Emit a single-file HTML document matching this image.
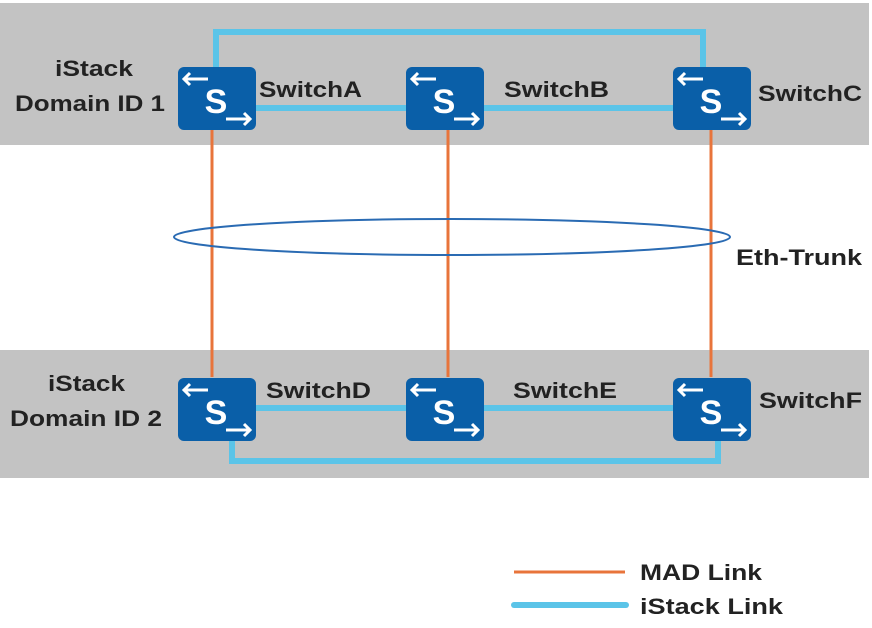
<!DOCTYPE html>
<html><head><style>
body{margin:0;width:872px;height:623px;background:#fff;overflow:hidden;font-family:"Liberation Sans",sans-serif;}
</style></head><body>
<svg width="872" height="623" xmlns="http://www.w3.org/2000/svg" font-family="Liberation Sans, sans-serif" font-weight="bold">
<rect x="0" y="3" width="869" height="142" fill="#c3c3c3"/>
<rect x="0" y="350" width="869" height="128" fill="#c3c3c3"/>
<g stroke="#5bc4e8" stroke-width="6" fill="none">
<polyline points="216,67 216,32 703,32 703,67"/>
<line x1="256" y1="108" x2="406" y2="108"/>
<line x1="484" y1="108" x2="673" y2="108"/>
<polyline points="232,441 232,461 718,461 718,441"/>
<line x1="256" y1="408" x2="406" y2="408"/>
<line x1="484" y1="408" x2="673" y2="408"/>
</g>
<g stroke="#e8743b" stroke-width="3">
<line x1="212" y1="130" x2="212" y2="377"/>
<line x1="448" y1="130" x2="448" y2="377"/>
<line x1="711" y1="130" x2="711" y2="377"/>
</g>
<ellipse cx="452" cy="237" rx="278" ry="18" fill="none" stroke="#2a6bb3" stroke-width="2"/>
<defs>
<g id="sw">
<rect x="0" y="0" width="78" height="63" rx="6" fill="#0a5fa8"/>
<text x="38" y="46" font-size="34" fill="#fff" text-anchor="middle" font-weight="bold">S</text>
<g stroke="#fff" stroke-width="3" fill="none">
<line x1="6" y1="12" x2="30" y2="12"/><polyline points="12,6 6,12 12,18"/>
<line x1="48" y1="52" x2="72" y2="52"/><polyline points="66,46 72,52 66,58"/>
</g>
</g>
</defs>
<use href="#sw" x="178" y="67"/><use href="#sw" x="406" y="67"/><use href="#sw" x="673" y="67"/>
<use href="#sw" x="178" y="378"/><use href="#sw" x="406" y="378"/><use href="#sw" x="673" y="378"/>
<g font-size="22" fill="#222">
<text x="55" y="76" textLength="78" lengthAdjust="spacingAndGlyphs">iStack</text>
<text x="15" y="111" textLength="150" lengthAdjust="spacingAndGlyphs">Domain ID 1</text>
<text x="48" y="391" textLength="77" lengthAdjust="spacingAndGlyphs">iStack</text>
<text x="10" y="426" textLength="152" lengthAdjust="spacingAndGlyphs">Domain ID 2</text>
<text x="259" y="97" textLength="103" lengthAdjust="spacingAndGlyphs">SwitchA</text>
<text x="504" y="97" textLength="105" lengthAdjust="spacingAndGlyphs">SwitchB</text>
<text x="758" y="101" textLength="104" lengthAdjust="spacingAndGlyphs">SwitchC</text>
<text x="266" y="398" textLength="105" lengthAdjust="spacingAndGlyphs">SwitchD</text>
<text x="513" y="398" textLength="104" lengthAdjust="spacingAndGlyphs">SwitchE</text>
<text x="759" y="408" textLength="103" lengthAdjust="spacingAndGlyphs">SwitchF</text>
<text x="736" y="265" textLength="126" lengthAdjust="spacingAndGlyphs">Eth-Trunk</text>
<text x="640" y="580" textLength="122" lengthAdjust="spacingAndGlyphs">MAD Link</text>
<text x="640" y="614" textLength="143" lengthAdjust="spacingAndGlyphs">iStack Link</text>
</g>
<line x1="514" y1="572" x2="625" y2="572" stroke="#e8743b" stroke-width="3"/>
<line x1="514" y1="605" x2="626" y2="605" stroke="#5bc4e8" stroke-width="6" stroke-linecap="round"/>
</svg>
</body></html>
